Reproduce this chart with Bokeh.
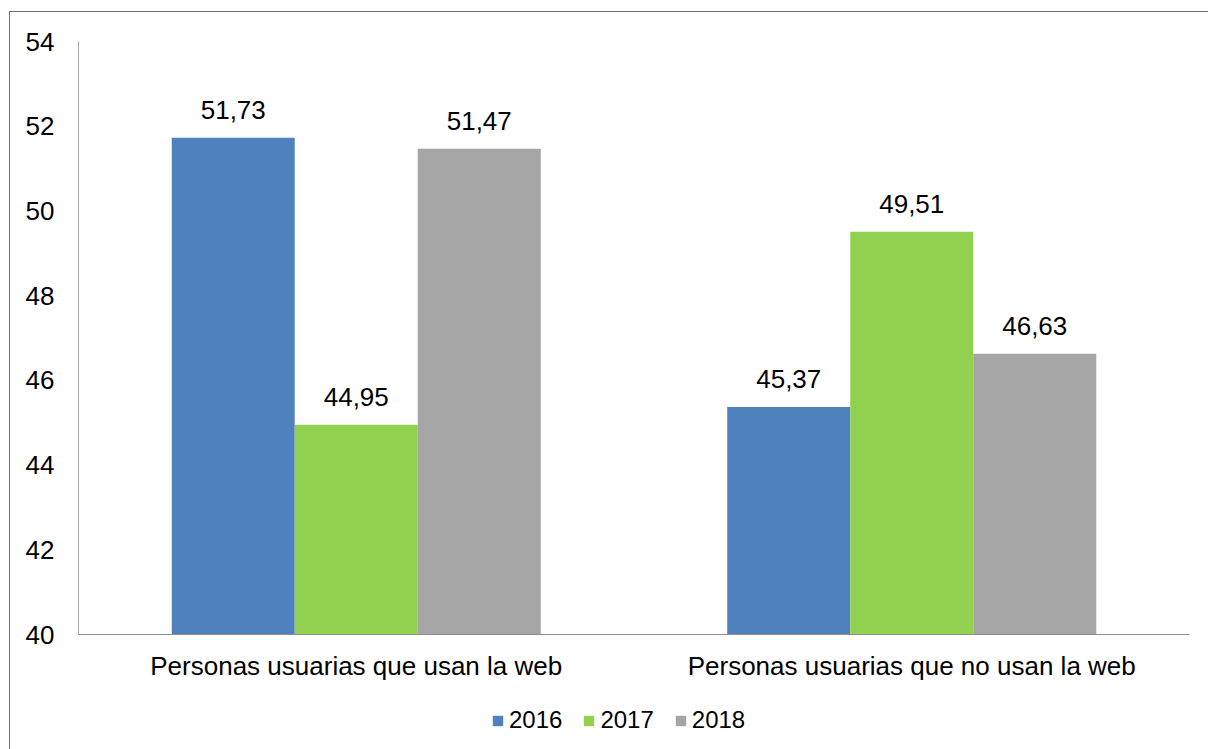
from bokeh.plotting import figure
from bokeh.layouts import column
from bokeh.models import FactorRange, ColumnDataSource, FixedTicker, Legend, LegendItem
from bokeh.transform import dodge
from bokeh.core.properties import value
from bokeh.embed import file_html
from bokeh.resources import INLINE

categories = ["Personas usuarias que usan la web", "Personas usuarias que no usan la web"]
years = ["2016", "2017", "2018"]
v2016 = [51.73, 45.37]
v2017 = [44.95, 49.51]
v2018 = [51.47, 46.63]
colors = ["#4F81BD", "#92D050", "#A5A5A5"]
y_ticks = [40, 42, 44, 46, 48, 50, 52, 54]

FONT = value("Liberation Sans")
FS = "26px"

p = figure(x_range=FactorRange(*categories), y_range=(40, 54),
           width=1199, height=683, output_backend="svg", toolbar_location=None,
           min_border_left=68, min_border_right=20, min_border_top=29, min_border_bottom=61)
p.outline_line_color = None
p.xgrid.grid_line_color = None
p.ygrid.grid_line_color = None

bw = 123 / 555.5
series = [v2016, v2017, v2018]
offsets = [-bw, 0, bw]
for yr, vals, col, off in zip(years, series, colors, offsets):
    src = ColumnDataSource(dict(x=categories, y=vals,
                                lab=[f"{v:.2f}".replace(".", ",") for v in vals]))
    p.vbar(x=dodge("x", off, range=p.x_range), top="y", bottom=40, width=bw,
           source=src, fill_color=col, line_color=None)
    p.text(x=dodge("x", off, range=p.x_range), y="y", text="lab", source=src,
           text_align="center", text_baseline="alphabetic", y_offset=-28,
           text_font=FONT, text_font_size=FS, text_color="#000000")

p.yaxis.ticker = FixedTicker(ticks=y_ticks)
for ax in (p.xaxis, p.yaxis):
    ax.major_tick_line_color = None
    ax.minor_tick_line_color = None
    ax.major_tick_out = 0
    ax.major_tick_in = 0
    ax.minor_tick_out = 0
    ax.minor_tick_in = 0
    ax.major_label_text_font = "Liberation Sans"
    ax.major_label_text_font_size = FS
    ax.major_label_text_color = "#000000"
p.yaxis.axis_line_color = "#A6A6A6"
p.xaxis.axis_line_color = "#8C8C8C"
p.yaxis.major_label_standoff = 24
p.xaxis.major_label_standoff = 16

# legend strip below the chart
p2 = figure(width=1199, height=54, output_backend="svg", toolbar_location=None,
            x_range=(0, 1), y_range=(0, 1),
            x_axis_location=None, y_axis_location=None,
            min_border_left=68, min_border_right=20, min_border_top=0, min_border_bottom=0)
p2.outline_line_color = None
p2.xgrid.grid_line_color = None
p2.ygrid.grid_line_color = None
items = []
for yr, col in zip(years, colors):
    r = p2.vbar(x=[-10], top=[-10], bottom=[-11], width=1, fill_color=col, line_color=None)
    items.append(LegendItem(label=yr, renderers=[r]))
lg = Legend(items=items, orientation="horizontal", location=(413, 15),
            glyph_width=13, glyph_height=13, label_standoff=5, spacing=20,
            padding=0, margin=0, border_line_color=None, background_fill_alpha=0,
            label_text_font="Liberation Sans", label_text_font_size="24px",
            label_text_color="#000000")
p2.add_layout(lg)

layout = column(p, p2, spacing=0)
layout.styles = {"border-left": "1px solid #6F6F6F", "border-top": "1px solid #6F6F6F",
                 "margin-left": "9px", "margin-top": "11px"}

open("out.html", "w").write(file_html(layout, INLINE))
